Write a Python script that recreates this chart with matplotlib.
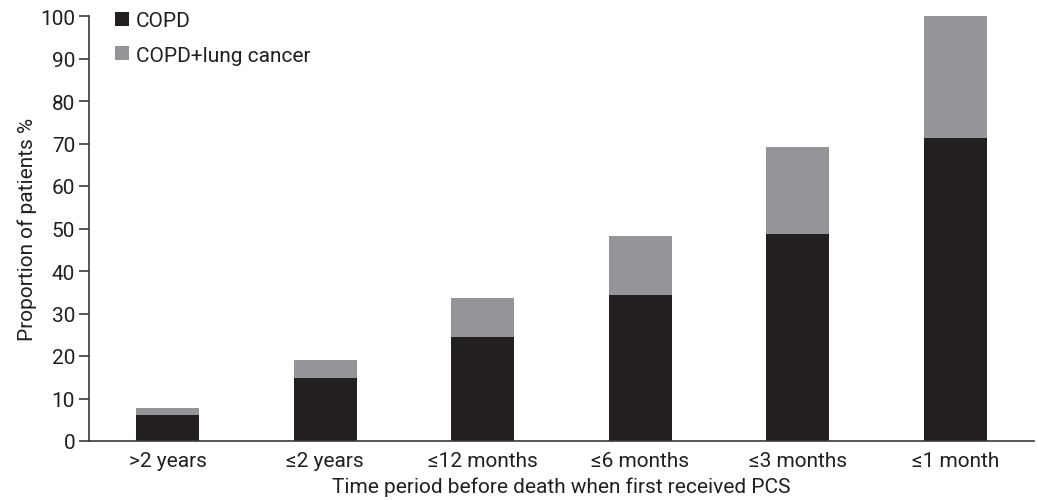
import matplotlib
matplotlib.use('Agg')
import matplotlib.pyplot as plt
import numpy as np

# values
periods = ['>2 years', '≤2 years', '≤12 months', '≤6 months', '≤3 months', '≤1 month']
copd = [6.1, 14.8, 24.5, 34.4, 48.7, 71.3]
copd_lc = [1.7, 4.3, 9.1, 13.8, 20.5, 28.7]  # stacked on top of COPD
yticks = list(range(0, 101, 10))

plt.rcParams['font.family'] = ['Roboto', 'DejaVu Sans']

black = '#231f20'
grey = '#939598'
txt = '#231f20'
fs = 15

fig = plt.figure(figsize=(10.38, 5.02), dpi=100)
ax = fig.add_axes([89 / 1038, 60 / 502, 945 / 1038, 425 / 502])

x = np.arange(len(periods))
ax.bar(x, copd, width=0.4, color=black, label='COPD')
ax.bar(x, copd_lc, width=0.4, bottom=copd, color=grey, label='COPD+lung cancer')

ax.set_xlim(-0.5, len(periods) - 0.5)
ax.set_ylim(0, 100)
ax.set_yticks(yticks)
ax.set_xticks(x)
ax.set_xticklabels(periods)

for s in ['top', 'right']:
    ax.spines[s].set_visible(False)
for s in ['left', 'bottom']:
    ax.spines[s].set_color('#3a3a3a')
    ax.spines[s].set_linewidth(1.2)

ax.tick_params(axis='y', length=7, width=1.2, color='#3a3a3a', labelsize=fs, labelcolor=txt, pad=3)
ax.tick_params(axis='x', length=0, labelsize=fs, labelcolor=txt, pad=7)

ax.set_xlabel('Time period before death when first received PCS', fontsize=fs, color=txt, labelpad=5)
ax.set_ylabel('Proportion of patients %', fontsize=fs, color=txt, labelpad=2)

ax.legend(loc='upper left', bbox_to_anchor=(0.0275, 1.012), frameon=False, fontsize=fs,
          handlelength=0.65, handleheight=0.65, handletextpad=0.35, labelspacing=0.75,
          borderpad=0, borderaxespad=0, labelcolor=txt)

fig.savefig('out.png', dpi=100)
